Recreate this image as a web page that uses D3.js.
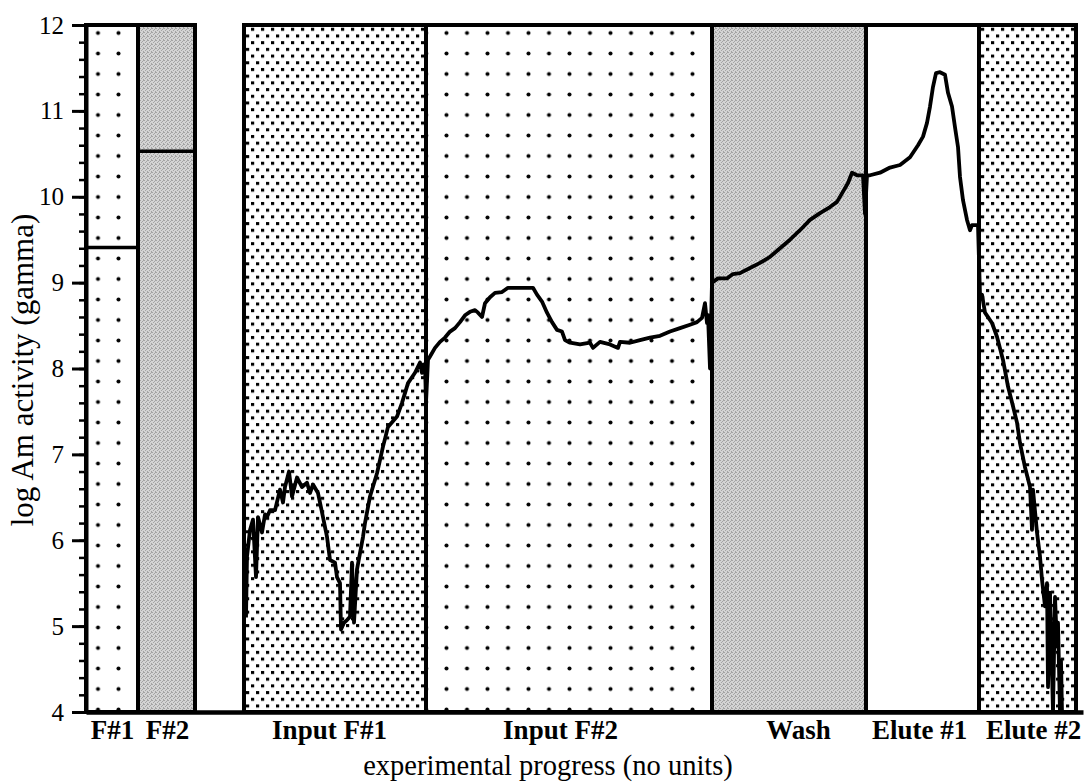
<!DOCTYPE html>
<html>
<head>
<meta charset="utf-8">
<script src="https://cdn.jsdelivr.net/npm/d3@7"></script>
<style>
  body { margin: 0; background: #fff; }
  text { font-family: "Liberation Serif", "Times New Roman", serif; fill: #000; }
</style>
</head>
<body>
<div id="chart"></div>
<script>
// chart data
var panelNames = ["F#1", "F#2", "Input F#1", "Input F#2", "Wash", "Elute #1", "Elute #2"];
var panelStart = [0, 52, 158, 340, 626, 780, 893];
var panelEnd = [52, 109, 340, 626, 780, 893, 990];
var labelAt = [26, 81, 243, 474, 712, 833, 947];

var yTicks = [4, 5, 6, 7, 8, 9, 10, 11, 12];

// flat readings of the two feed samples
var f1LevelX = [2, 51];
var f1LevelY = [9.41, 9.41];
var f2LevelX = [54, 111];
var f2LevelY = [10.53, 10.53];

// continuous trace, input F#1 -> elute #2
var traceX = [160, 161, 164, 167, 170, 172, 176, 179, 181, 184, 189, 194, 197, 199, 203, 206, 211, 216, 221, 224,
  227, 232, 237, 241, 244, 249, 251, 254, 255, 258, 261, 264, 266, 268, 271, 277, 279, 284, 291, 297,
  302, 311, 316, 322, 329, 334, 336, 339, 340, 342,
  344, 349, 354, 359, 364, 369, 374, 379, 384, 389, 392, 396, 399, 404, 409, 416, 422, 447, 451, 456,
  461, 466, 471, 476, 479, 484, 494, 504, 507, 514, 524, 532, 534, 544, 554, 564, 574, 584, 594, 604,
  611, 616, 619, 621, 622, 624, 626,
  632, 641, 647, 654, 664, 674, 684, 694, 704, 714, 724, 734, 744, 751, 757, 762, 766, 771, 777, 779, 781,
  784, 794, 804, 814, 824, 832, 837, 841, 844, 847, 850, 854, 859, 862, 866, 869, 872, 874, 877, 881,
  884, 886, 892, 894,
  896, 899, 906, 911, 917, 922, 927, 931, 934, 939, 944, 946, 947, 951, 954, 956, 959, 961, 962, 964,
  967, 969, 971, 972, 974, 975, 976];
var traceY = [5.10, 5.81, 6.12, 6.24, 5.57, 6.27, 6.09, 6.30, 6.27, 6.35, 6.35, 6.59, 6.44, 6.62, 6.80, 6.51, 6.73, 6.62, 6.67, 6.55,
  6.65, 6.55, 6.27, 6.04, 5.77, 5.74, 5.57, 5.50, 4.96, 5.04, 5.07, 5.11, 5.74, 5.04, 5.66, 6.04, 6.20, 6.51, 6.78, 7.09,
  7.32, 7.44, 7.60, 7.83, 7.95, 8.07, 7.95, 8.05, 7.60, 8.10,
  8.14, 8.24, 8.31, 8.36, 8.43, 8.47, 8.54, 8.62, 8.66, 8.68, 8.65, 8.60, 8.76, 8.83, 8.88, 8.89, 8.94, 8.94, 8.86, 8.78,
  8.65, 8.54, 8.45, 8.43, 8.33, 8.30, 8.28, 8.30, 8.24, 8.31, 8.28, 8.24, 8.31, 8.30, 8.33, 8.36, 8.38, 8.43, 8.47, 8.51,
  8.54, 8.59, 8.76, 8.53, 8.62, 8.00, 9.00,
  9.05, 9.05, 9.10, 9.11, 9.17, 9.23, 9.30, 9.40, 9.50, 9.61, 9.73, 9.81, 9.88, 9.94, 10.06, 10.16, 10.28, 10.25, 10.25, 9.80, 10.25,
  10.25, 10.28, 10.34, 10.37, 10.46, 10.60, 10.70, 10.86, 11.05, 11.28, 11.44, 11.45, 11.42, 11.21, 11.05, 10.81, 10.58, 10.23, 9.96, 9.73,
  9.61, 9.67, 9.67, 8.86,
  8.86, 8.65, 8.53, 8.37, 8.10, 7.79, 7.56, 7.37, 7.13, 6.85, 6.62, 6.12, 6.59, 6.09, 5.81, 5.54, 5.23, 5.50, 4.29, 5.39,
  4.00, 5.34, 4.76, 5.04, 4.00, 4.60, 4.00];

// layout
var svgwidth = 1085;
var svgheight = 784;
var plotLeft = 86, plotRight = 1083, plotTop = 25, plotBottom = 712;

var svg = d3.select("#chart")
  .append("svg")
  .attr("width", svgwidth)
  .attr("height", svgheight);

var xScale = d3.scaleLinear().domain([0, 997]).range([plotLeft, plotRight]);
var yScale = d3.scaleLinear().domain([4, 12]).range([plotBottom, plotTop]);

// fill patterns
var defs = svg.append("defs");

var sparse = defs.append("pattern")
  .attr("id", "sparse")
  .attr("patternUnits", "userSpaceOnUse")
  .attr("x", 87.75).attr("y", 22.75)
  .attr("width", 20.5).attr("height", 20.5);
sparse.append("circle").attr("cx", 10.25).attr("cy", 10.25).attr("r", 2).attr("fill", "#000");

var dense = defs.append("pattern")
  .attr("id", "dense")
  .attr("patternUnits", "userSpaceOnUse")
  .attr("width", 10).attr("height", 13.4);
dense.append("rect").attr("x", 1).attr("y", 1).attr("width", 3.2).attr("height", 3).attr("fill", "#000");
dense.append("rect").attr("x", 6).attr("y", 7.7).attr("width", 3.2).attr("height", 3).attr("fill", "#000");

var grain = defs.append("pattern")
  .attr("id", "grain")
  .attr("patternUnits", "userSpaceOnUse")
  .attr("width", 4).attr("height", 4);
grain.append("rect").attr("width", 4).attr("height", 4).attr("fill", "#d4d4d4");
[[0, 0], [2, 1], [1, 2], [3, 3], [3, 0]].forEach(function(p) {
  grain.append("rect").attr("x", p[0]).attr("y", p[1]).attr("width", 1).attr("height", 1).attr("fill", "#a4a4a4");
});

var fillFor = {
  "F#1": "url(#sparse)",
  "F#2": "url(#grain)",
  "Input F#1": "url(#dense)",
  "Input F#2": "url(#sparse)",
  "Wash": "url(#grain)",
  "Elute #1": "#fff",
  "Elute #2": "url(#dense)"
};

var panels = panelNames.map(function(n, i) {
  return {name: n, x0: panelStart[i], x1: panelEnd[i], label: labelAt[i]};
});

var panelGroup = svg.append("g");

panelGroup.selectAll("rect")
  .data(panels)
  .enter()
  .append("rect")
  .attr("x", d => xScale(d.x0))
  .attr("y", yScale(12))
  .attr("width", d => xScale(d.x1) - xScale(d.x0))
  .attr("height", yScale(4) - yScale(12))
  .attr("fill", d => fillFor[d.name])
  .attr("stroke", "#000")
  .attr("stroke-width", 4);

// curve
var line = d3.line()
  .x(d => xScale(d[0]))
  .y(d => yScale(d[1]))
  .curve(d3.curveLinear);

function pairs(xs, ys) { return xs.map(function(x, i) { return [x, ys[i]]; }); }

svg.append("path")
  .datum(pairs(f1LevelX, f1LevelY))
  .attr("d", line)
  .attr("fill", "none").attr("stroke", "#000").attr("stroke-width", 3.5);

svg.append("path")
  .datum(pairs(f2LevelX, f2LevelY))
  .attr("d", line)
  .attr("fill", "none").attr("stroke", "#000").attr("stroke-width", 3.5);

svg.append("path")
  .datum(pairs(traceX, traceY))
  .attr("d", line)
  .attr("fill", "none")
  .attr("stroke", "#000")
  .attr("stroke-width", 3.8)
  .attr("stroke-linejoin", "round");

// y axis: minor ticks then major ticks with labels
var yMinor = d3.axisLeft(yScale)
  .tickValues(d3.range(4, 12.001, 0.2))
  .tickSize(7)
  .tickFormat("");
svg.append("g")
  .attr("transform", `translate(${plotLeft},0)`)
  .call(yMinor)
  .call(g => g.select(".domain").remove())
  .selectAll("line").attr("stroke-width", 2.5);

var yAxis = d3.axisLeft(yScale)
  .tickValues(yTicks)
  .tickSize(14)
  .tickSizeOuter(0)
  .tickPadding(8);
var yG = svg.append("g")
  .attr("transform", `translate(${plotLeft},0)`)
  .call(yAxis);
yG.select(".domain").attr("stroke-width", 4);
yG.selectAll("line").attr("stroke-width", 3);
yG.selectAll("text")
  .style("font-size", "25px");

// x axis with section names
var xAxis = d3.axisBottom(xScale)
  .tickValues(labelAt)
  .tickFormat((d, i) => panelNames[i])
  .tickSize(0)
  .tickSizeOuter(0)
  .tickPadding(8);
var xG = svg.append("g")
  .attr("transform", `translate(0,${plotBottom})`)
  .call(xAxis);
xG.select(".domain").attr("stroke-width", 4.5);
xG.selectAll("text")
  .style("font-size", "27px")
  .style("font-weight", "bold");

// axis titles
svg.append("text")
  .attr("x", 548)
  .attr("y", 775)
  .attr("text-anchor", "middle")
  .style("font-size", "28.5px")
  .text("experimental progress (no units)");

svg.append("text")
  .attr("transform", "rotate(-90)")
  .attr("x", -370)
  .attr("y", 33)
  .attr("text-anchor", "middle")
  .style("font-size", "31px")
  .text("log Am activity (gamma)");
</script>
</body>
</html>
